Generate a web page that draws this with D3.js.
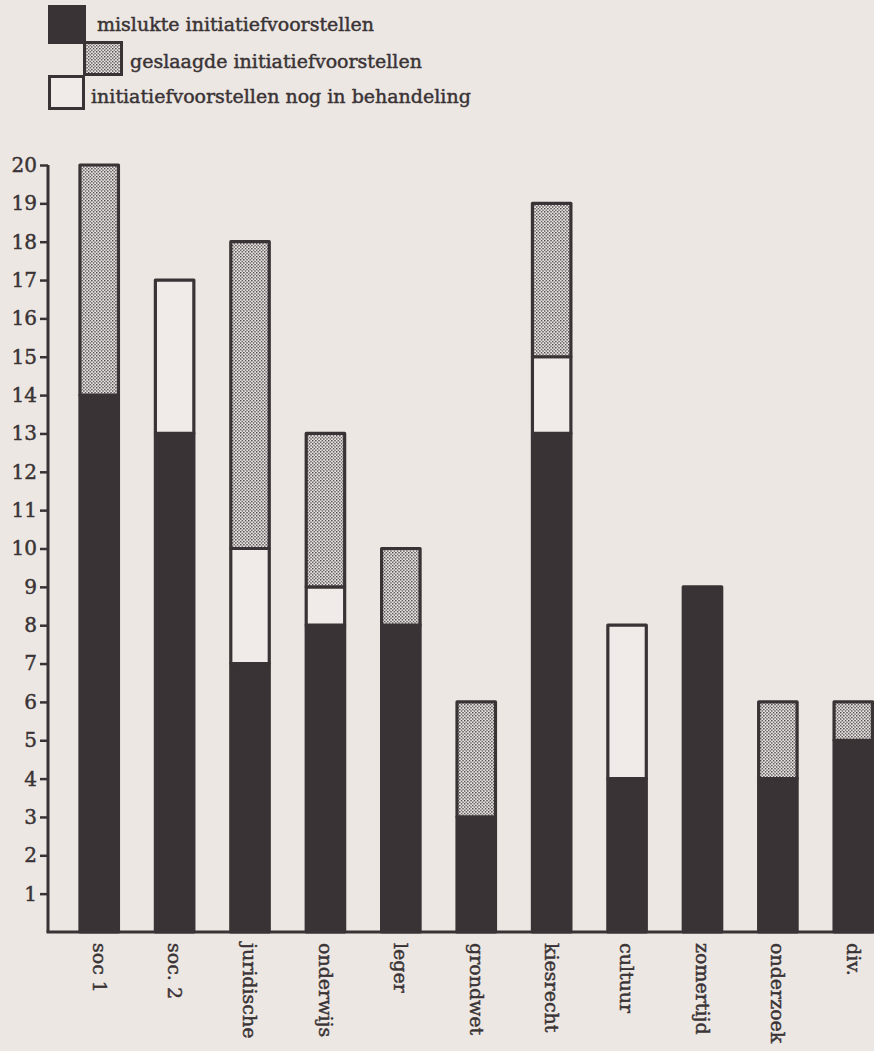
<!DOCTYPE html>
<html>
<head>
<meta charset="utf-8">
<script src="https://cdn.jsdelivr.net/npm/d3@7"></script>
<style>
html,body{margin:0;padding:0;background:#ece7e3;}
svg{display:block;}
text{font-family:"DejaVu Serif",serif;fill:#3a3335;stroke:#3a3335;stroke-width:0.45px;}
</style>
</head>
<body>
<svg id="chart" width="874" height="1051"></svg>
<script>
const categories = ["soc 1","soc. 2","juridische","onderwijs","leger","grondwet","kiesrecht","cultuur","zomertijd","onderzoek","div."];
const mislukt     = [14,13,7,8,8,3,13,4,9,4,5];
const behandeling = [0,4,3,1,0,0,2,4,0,0,0];
const geslaagd    = [6,0,8,4,2,3,4,0,0,2,1];
const seriesNames = ["mislukte initiatiefvoorstellen","geslaagde initiatiefvoorstellen","initiatiefvoorstellen nog in behandeling"];
const yTicks = d3.range(1,21);

const ink = "#3a3335", paper = "#ece7e3", white = "#f0ebe8";
const svg = d3.select("#chart");

const defs = svg.append("defs");
const pat = defs.append("pattern").attr("id","dots").attr("patternUnits","userSpaceOnUse")
  .attr("width",3.2).attr("height",3.2);
pat.append("rect").attr("width",3.2).attr("height",3.2).attr("fill","#ebe7e5");
pat.append("rect").attr("x",0).attr("y",0).attr("width",1.3).attr("height",1.3).attr("fill",ink);
pat.append("rect").attr("x",1.6).attr("y",1.6).attr("width",1.3).attr("height",1.3).attr("fill",ink);

const x = d3.scaleBand().domain(categories).range([61.5, 891]).paddingInner(0.45).paddingOuter(0.225);
const y = d3.scaleLinear().domain([0,20]).range([932,165]);

const rows = categories.map((c,i)=>({cat:c, mislukt:mislukt[i], behandeling:behandeling[i], geslaagd:geslaagd[i]}));
const stack = d3.stack().keys(["mislukt","behandeling","geslaagd"])(rows);
const fills = {mislukt:ink, behandeling:white, geslaagd:"url(#dots)"};

// bars
stack.forEach(layer=>{
  svg.append("g").selectAll("rect").data(layer.filter(d=>d[1]-d[0]>0)).join("rect")
    .attr("x",d=>x(d.data.cat)+1.5)
    .attr("width",x.bandwidth()-3)
    .attr("y",d=>y(d[1]))
    .attr("height",d=>y(d[0])-y(d[1]))
    .attr("fill",fills[layer.key])
    .attr("stroke",ink).attr("stroke-width",3.2).attr("stroke-linejoin","round");
});

// y axis
const yAxis = d3.axisLeft(y).tickValues(yTicks).tickSize(8).tickPadding(3).tickFormat(d3.format("d"));
const ya = svg.append("g").attr("transform","translate(48,0)").call(yAxis);
ya.select(".domain").attr("d",`M0,${y(20)}V${y(0)}`).attr("stroke",ink).attr("stroke-width",3);
ya.selectAll(".tick line").attr("stroke",ink).attr("stroke-width",2.5);
ya.selectAll(".tick text").attr("font-family","DejaVu Serif").attr("font-size",20).attr("fill",ink);

// x axis
const xAxis = d3.axisBottom(x).tickSize(0).tickPadding(0);
const xa = svg.append("g").attr("transform",`translate(0,${y(0)})`).call(xAxis);
xa.select(".domain").attr("d","M46.5,0H874").attr("stroke",ink).attr("stroke-width",3);
xa.selectAll(".tick text")
  .attr("font-family","DejaVu Serif").attr("font-size",19).attr("fill",ink)
  .attr("text-anchor","start").attr("y",0).attr("x",0).attr("dy","0.35em")
  .attr("transform","translate(0,11) rotate(90)");

// legend
const lg = svg.append("g");
lg.append("rect").attr("x",49.5).attr("y",6.5).attr("width",35).attr("height",36).attr("fill",ink).attr("stroke",ink).attr("stroke-width",3);
lg.append("rect").attr("x",84.5).attr("y",42.5).attr("width",37).attr("height",32).attr("fill","url(#dots)").attr("stroke",ink).attr("stroke-width",3);
lg.append("rect").attr("x",49.5).attr("y",76.5).attr("width",34).attr("height",32).attr("fill",white).attr("stroke",ink).attr("stroke-width",3);
const legPos = [[97,31],[130,68],[91,103]];
lg.selectAll("text").data(seriesNames).join("text")
  .attr("x",(d,i)=>legPos[i][0]).attr("y",(d,i)=>legPos[i][1])
  .attr("font-size",19).text(d=>d);
</script>
</body>
</html>
